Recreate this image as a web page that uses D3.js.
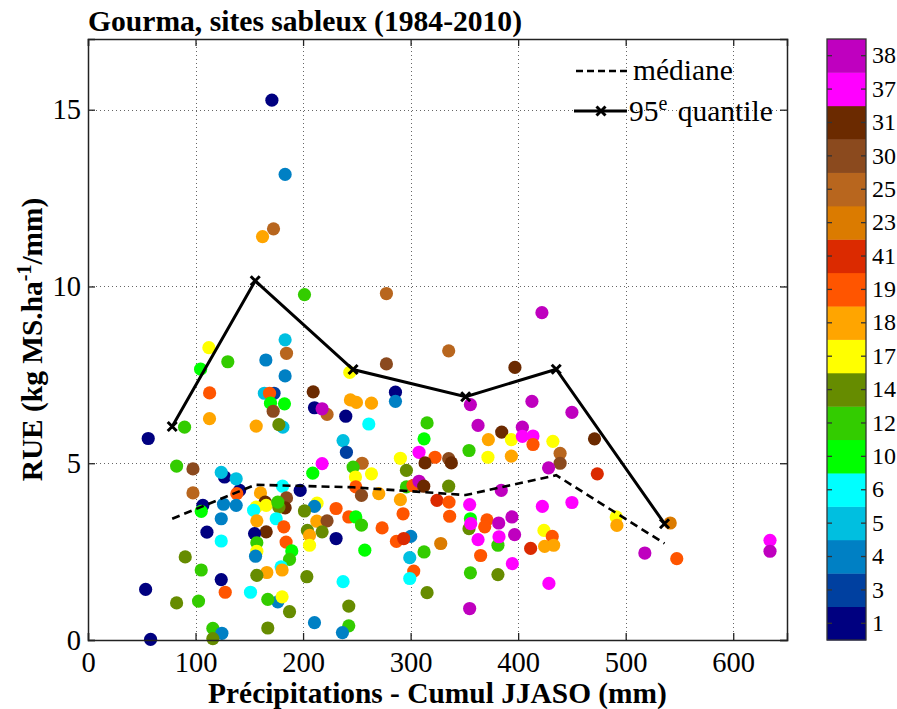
<!DOCTYPE html>
<html><head><meta charset="utf-8">
<script src="https://cdn.jsdelivr.net/npm/d3@7"></script>
<style>body{margin:0;background:#fff}svg{display:block}text{font-family:"Liberation Serif","Times New Roman",serif;fill:#000}</style>
</head><body><svg id="c" width="897" height="709"></svg>
<script>
// site codes in colorbar order (bottom -> top)
const siteCodes = [1,3,4,5,6,10,12,14,17,18,19,41,23,25,30,31,37,38];
const siteColors = ["#000080","#0040A0","#0080C4","#00BFE0","#00FFFF","#00FF00","#33CC00","#668C00","#FFFF00","#FFA500","#FF5500","#DB2A00","#DB7B00","#B8661E","#8B4A1E","#6B2A00","#FF00FF","#BF00BF"];

// scatter data: precipitation (mm), RUE, site code
const precip = [171,183.3,172.5,162.3,201.3,183.3,184.6,112.4,130,165.4,104.7,183.3,113.1,164,173,168.8,209.4,169.7,182.7,172.2,210.6,222.3,217.7,
89.8,56,113,156.4,181.2,177.5,217.7,209,82.4,97.6,97.6,127,123.9,141,137.8,138.4,126,137.8,106.8,105.3,123.9,110.6,123.9,90.4,105.3,53.6,82.4,102.8,123.9,127.6,151.1,176.5,167.2,180.5,187.4,116.1,124.5,116.1,58.2,167.2,210.6,203.5,
160.4,180.9,197.3,184.6,164.8,183.3,156.4,165.7,177.5,176.5,175,154,157,213,210.6,201.3,230.7,212.8,222.3,217.7,204,206,206,230.7,182.1,165.7,154.9,184.2,157,189.5,157,155.8,187.4,179.6,180.5,166.3,157,
277.5,277.5,243.4,335.4,422.1,397,285.9,285.9,244,249.6,263.6,355.6,412.8,239.7,261.1,237.2,240.3,315.3,312.5,362.7,384.7,372.3,393.7,403.9,403.9,413.8,413.8,432.3,450,439,439,428.3,307.8,322.7,313.4,335.4,337.9,354.3,371.9,393.7,290.5,254.9,246.5,296.1,263.6,
248.7,249,254.3,270.4,296.1,290.5,302.2,307.8,312.2,335.4,293,324.5,335.7,336.3,354.9,354.3,355.6,355.9,384.3,371,368.9,381.9,394.2,396.7,362.7,381.2,382.2,365.1,394.6,355.6,381.2,354.9,422.5,424,431.7,424.6,433,411.6,428.6,450,242.5,249,254.3,273.5,257.4,300.1,286.8,293.6,328,312.5,299.2,302.9,299.2,315.3,237.2,242.5,242.5,236.6,
471,473.6,491.2,491.8,541.4,517.8,547.5,634.2,634.2];
const rue = [15.27,13.17,11.63,11.41,9.77,8.49,8.11,8.27,7.87,7.92,7.66,7.47,6.99,6.98,6.98,6.98,7.02,6.70,6.68,6.47,6.57,6.38,6.54,
6.02,5.70,6.26,6.05,6.02,6.09,4.99,4.72,4.92,4.84,4.16,4.61,4.74,4.23,4.56,4.14,3.84,3.81,3.81,3.64,3.43,3.05,2.80,2.35,1.98,1.43,1.05,1.10,1.71,1.35,1.35,1.08,1.15,1.22,0.80,0.33,0.19,0.04,0.02,0.34,0.49,1.79,
4.16,4.35,4.23,4.02,3.90,3.74,3.76,3.81,3.76,3.90,3.43,3.67,3.37,3.87,3.78,3.65,3.72,3.36,3.37,3.06,3.10,2.96,2.68,2.87,3.20,3.06,3.01,2.77,2.75,2.52,2.51,2.37,2.28,2.07,1.98,1.91,1.83,
9.80,7.81,7.57,8.18,9.26,7.71,7.01,6.75,6.79,6.72,6.70,6.66,6.75,6.33,6.11,5.64,5.31,6.14,5.69,6.07,5.88,5.67,5.67,6.02,5.76,5.77,5.53,5.62,6.44,5.28,5.00,4.87,5.31,5.17,5.01,5.13,5.01,5.36,5.17,5.20,5.14,5.00,4.89,4.80,4.70,
4.61,4.33,4.09,4.14,4.33,3.97,4.37,4.49,4.35,4.35,3.57,3.95,3.90,3.50,3.83,3.15,3.43,3.29,4.23,3.40,3.20,3.31,3.48,2.98,2.84,2.68,2.92,2.39,2.16,1.90,1.85,0.89,3.78,3.10,2.93,2.65,2.68,2.59,1.60,3.89,3.48,3.48,3.25,3.17,2.54,2.93,2.79,2.87,2.73,2.49,2.33,1.95,1.74,1.34,1.65,0.96,0.40,0.21,
5.69,4.70,3.48,3.24,3.31,2.46,2.30,2.82,2.51];
const site = [1,4,25,18,12,5,25,17,12,4,10,4,19,5,3,19,31,10,10,30,1,25,38,
12,1,18,18,5,14,37,10,12,30,25,1,5,1,5,19,4,4,1,10,4,1,6,14,12,1,14,12,1,19,6,4,12,17,14,12,4,14,1,14,4,14,
18,6,1,30,31,31,17,17,14,12,6,6,18,17,4,14,19,18,30,14,14,18,17,1,19,31,1,19,12,10,17,4,12,6,18,18,14,
25,30,17,25,38,31,1,4,18,18,18,38,38,1,6,5,3,12,10,38,31,18,17,38,37,37,19,17,38,25,30,38,37,19,31,30,31,12,17,18,17,25,12,14,17,
17,19,30,18,12,18,19,38,31,14,19,41,19,19,37,14,10,37,38,19,19,38,38,38,37,12,37,19,37,12,14,38,37,17,19,18,18,41,37,37,19,10,12,19,10,4,19,41,23,12,5,19,6,14,6,14,12,4,
31,41,17,18,23,38,19,37,38];

// binned statistics
const binX = [78.3,155.5,246.5,351.2,435.4,536.1];
const median = [3.43,4.39,4.32,4.10,4.66,2.73];
const q95 = [6.04,10.16,7.65,6.88,7.66,3.29];

const xTicks = [0,100,200,300,400,500,600];
const yTicks = [0,5,10,15];

const svg = d3.select("#c");
const L=88,R=787,T=39,B=640;
const x = d3.scaleLinear().domain([0,650]).range([L,R]);
const y = d3.scaleLinear().domain([0,17]).range([B,T]);
const color = d3.scaleOrdinal().domain(siteCodes).range(siteColors);

svg.append("rect").attr("width",897).attr("height",709).attr("fill","#fff");

// grid
const grid = svg.append("g").attr("stroke","#666").attr("stroke-width",1).attr("stroke-dasharray","1,3");
grid.selectAll(".gx").data(xTicks.filter(d=>d>0)).join("line")
  .attr("x1",d=>Math.round(x(d))+0.5).attr("x2",d=>Math.round(x(d))+0.5).attr("y1",T).attr("y2",B);
grid.selectAll(".gy").data(yTicks.filter(d=>d>0)).join("line")
  .attr("y1",d=>Math.round(y(d))+0.5).attr("y2",d=>Math.round(y(d))+0.5).attr("x1",L).attr("x2",R);

// points
const pts = precip.map((p,i)=>({p, r:rue[i], s:site[i]}));
svg.append("g").selectAll("circle").data(pts).join("circle")
  .attr("cx",d=>x(d.p)).attr("cy",d=>y(d.r)).attr("r",6.6)
  .attr("fill",d=>color(d.s));

// axes (inward ticks, box)
const axB = d3.axisBottom(x).tickValues(xTicks).tickSize(-7).tickPadding(12).tickFormat(d3.format("d"));
const axT = d3.axisTop(x).tickValues(xTicks).tickSize(-7).tickFormat("");
const axLft = d3.axisLeft(y).tickValues(yTicks).tickSize(-7).tickPadding(7).tickFormat(d3.format("d"));
const axRt = d3.axisRight(y).tickValues(yTicks).tickSize(-7).tickFormat("");
function style(g){g.select(".domain").attr("stroke","#222").attr("stroke-width",1.5);
  g.selectAll(".tick line").attr("stroke","#222").attr("stroke-width",1.3);
  g.selectAll("text").attr("font-size",28.5).attr("fill","#000");}
svg.append("g").attr("transform",`translate(0,${B})`).call(axB).call(style);
svg.append("g").attr("transform",`translate(0,${T})`).call(axT).call(style);
svg.append("g").attr("transform",`translate(${L},0)`).call(axLft).call(style);
svg.append("g").attr("transform",`translate(${R},0)`).call(axRt).call(style);

// statistic lines
const line = d3.line().x(d=>x(d[0])).y(d=>y(d[1]));
svg.append("path").datum(binX.map((b,i)=>[b,median[i]])).attr("d",line)
  .attr("fill","none").attr("stroke","#000").attr("stroke-width",2.6).attr("stroke-dasharray","8,5");
svg.append("path").datum(binX.map((b,i)=>[b,q95[i]])).attr("d",line)
  .attr("fill","none").attr("stroke","#000").attr("stroke-width",3);
function xMark(g,cx,cy){const s=4.5;
  g.append("path").attr("d",`M${cx-s},${cy-s}L${cx+s},${cy+s}M${cx-s},${cy+s}L${cx+s},${cy-s}`)
   .attr("stroke","#000").attr("stroke-width",3).attr("fill","none");}
const mk = svg.append("g");
binX.forEach((b,i)=>xMark(mk,x(b),y(q95[i])));

// legend
const lg = svg.append("g");
lg.append("line").attr("x1",576).attr("x2",628).attr("y1",71).attr("y2",71)
  .attr("stroke","#000").attr("stroke-width",2.4).attr("stroke-dasharray","7,4");
lg.append("text").attr("x",633).attr("y",80).attr("font-size",29.5).text("médiane");
lg.append("line").attr("x1",574).attr("x2",627).attr("y1",111).attr("y2",111)
  .attr("stroke","#000").attr("stroke-width",3);
xMark(lg,601,111);
const qt = lg.append("text").attr("x",629).attr("y",121).attr("font-size",29.5);
qt.append("tspan").text("95");
qt.append("tspan").attr("dy",-11).attr("font-size",20).text("e");
qt.append("tspan").attr("dy",11).attr("dx",3).text(" quantile");

// title and axis labels
svg.append("text").attr("x",88).attr("y",31).attr("font-size",29.6).attr("font-weight","bold")
  .text("Gourma, sites sableux (1984-2010)");
svg.append("text").attr("x",(L+R)/2).attr("y",703).attr("text-anchor","middle")
  .attr("font-size",29.4).attr("font-weight","bold").text("Précipitations - Cumul JJASO (mm)");
const yl = svg.append("text").attr("transform",`translate(42,${(T+B)/2}) rotate(-90)`)
  .attr("text-anchor","middle").attr("font-size",29.4).attr("font-weight","bold");
yl.append("tspan").text("RUE (kg MS.ha");
yl.append("tspan").attr("dy",-11).attr("font-size",20).text("-1");
yl.append("tspan").attr("dy",11).text("/mm)");

// colorbar
const cbX0=827, cbX1=866;
const cb = d3.scaleBand().domain(siteCodes).range([B,T]);
const cg = svg.append("g");
cg.selectAll("rect").data(siteCodes).join("rect")
  .attr("x",cbX0).attr("width",cbX1-cbX0)
  .attr("y",d=>cb(d)).attr("height",cb.bandwidth()+0.4)
  .attr("fill",d=>color(d));
cg.append("rect").attr("x",cbX0).attr("y",T).attr("width",cbX1-cbX0).attr("height",B-T)
  .attr("fill","none").attr("stroke","#333").attr("stroke-width",1.3);
const cbAx = d3.axisRight(cb).tickSize(-5).tickPadding(6);
const cba = cg.append("g").attr("transform",`translate(${cbX1},0)`).call(cbAx);
cba.select(".domain").remove();
cba.selectAll(".tick line").attr("stroke","#333").attr("stroke-width",1.3);
cba.selectAll("text").attr("font-size",24).attr("fill","#000");
const cbL = cg.append("g").attr("transform",`translate(${cbX0},0)`).call(d3.axisRight(cb).tickSize(5).tickFormat(""));
cbL.select(".domain").remove();
cbL.selectAll(".tick line").attr("stroke","#333").attr("stroke-width",1.3);
</script></body></html>
